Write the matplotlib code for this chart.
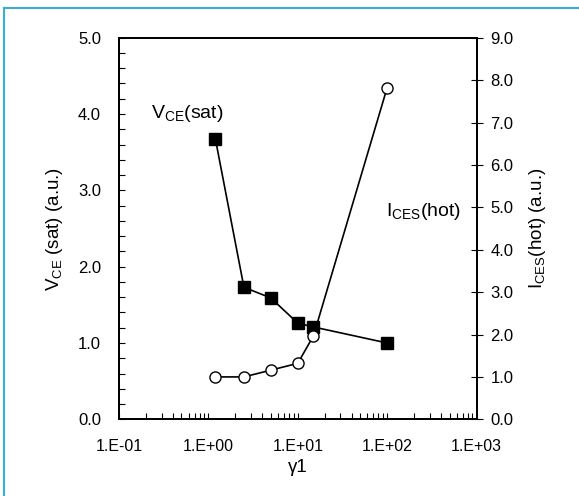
import matplotlib
matplotlib.use("Agg")
import matplotlib.pyplot as plt
from matplotlib.ticker import FixedLocator, MultipleLocator, FixedFormatter, LogLocator, NullFormatter
from matplotlib.lines import Line2D

plt.rcParams['font.family'] = ['Liberation Sans', 'DejaVu Sans']

gamma1 = [1.2, 2.5, 5, 10, 15, 100]
vce_sat = [3.67, 1.73, 1.59, 1.26, 1.21, 1.0]
ices_hot = [1.0, 1.0, 1.16, 1.32, 1.97, 7.82]

x_ticks = [0.1, 1, 10, 100, 1000]
x_tick_labels = ["1.E-01", "1.E+00", "1.E+01", "1.E+02", "1.E+03"]
left_ticks = [0, 1, 2, 3, 4, 5]
right_ticks = [0, 1, 2, 3, 4, 5, 6, 7, 8, 9]

fig = plt.figure(figsize=(5.79, 4.96), dpi=100)
ax = fig.add_axes([0.2055, 0.1546, 0.6175, 0.7694])
ax2 = ax.twinx()

ax.plot(gamma1, vce_sat, color='black', lw=1.2, marker='s', ms=8,
        mfc='black', mec='black', zorder=3)
ax2.plot(gamma1, ices_hot, color='black', lw=1.2, marker='o', ms=8,
         mfc='white', mec='black', mew=1.0, zorder=3)

ax.set_xscale('log')
ax.set_xlim(0.1, 1000)
ax.set_ylim(0, 5)
ax2.set_ylim(0, 9)

ax.xaxis.set_major_locator(FixedLocator(x_ticks))
ax.xaxis.set_major_formatter(FixedFormatter(x_tick_labels))
ax.xaxis.set_minor_locator(LogLocator(base=10, subs=range(2, 10)))
ax.xaxis.set_minor_formatter(NullFormatter())

ax.yaxis.set_major_locator(FixedLocator(left_ticks))
ax.set_yticklabels([f"{v:.1f}" for v in left_ticks])
ax.yaxis.set_minor_locator(MultipleLocator(0.2))

ax2.yaxis.set_major_locator(FixedLocator(right_ticks))
ax2.set_yticklabels([f"{v:.1f}" for v in right_ticks])

ax.tick_params(axis='x', which='both', direction='in', length=4, width=0.8,
               labelsize=11.5, pad=14, top=False)
ax.tick_params(axis='y', which='both', direction='in', length=4, width=0.8,
               labelsize=12, pad=13, right=False)
ax2.tick_params(axis='y', which='major', direction='inout', length=8, width=0.8,
                labelsize=12, pad=6)

for a in (ax, ax2):
    for s in a.spines.values():
        s.set_linewidth(1.3)

ax.set_xlabel("γ1", fontsize=13.5, labelpad=4)
ax.set_ylabel("V$_{\\mathregular{CE}}$ (sat) (a.u.)", fontsize=13.5, labelpad=9)
ax2.set_ylabel("I$_{\\mathregular{CES}}$(hot) (a.u.)", fontsize=13.5, labelpad=10,
               rotation=90)

ax.text(0.23, 4.01, "V$_{\\mathregular{CE}}$(sat)", fontsize=14,
        ha='left', va='center')
ax.text(97, 2.72, "I$_{\\mathregular{CES}}$(hot)", fontsize=14,
        ha='left', va='center')

border = '#3aaed3'
fig.add_artist(Line2D([3.5/579, 3.5/579], [0, 1 - 7.5/496], color=border, lw=1.5,
                      transform=fig.transFigure))
fig.add_artist(Line2D([3.5/579, 1], [1 - 7.5/496, 1 - 7.5/496], color=border, lw=1.5,
                      transform=fig.transFigure))

fig.savefig("out.png", dpi=100)
